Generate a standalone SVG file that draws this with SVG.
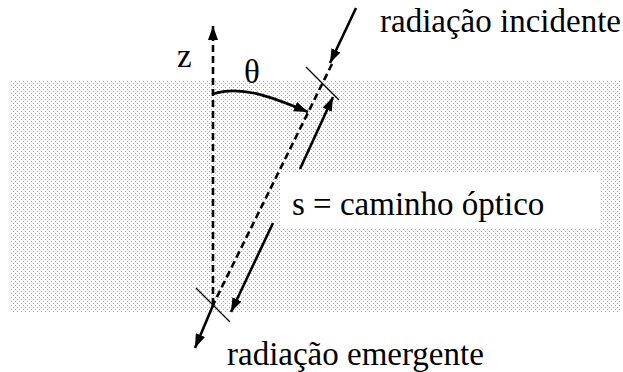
<svg xmlns="http://www.w3.org/2000/svg" width="623" height="372" viewBox="0 0 623 372">
<style>
text{font-size:33px;fill:#000}
.solid{stroke:#000;stroke-width:2.6;fill:none}
.dash{stroke:#000;stroke-width:2.6;fill:none;stroke-dasharray:7 4}
.tick{stroke:#000;stroke-width:1.3;fill:none}
</style>
<defs>
<pattern id="dots" x="11" y="81" width="4" height="4" patternUnits="userSpaceOnUse">
<rect width="4" height="4" fill="#fff"/>
<rect x="0" y="0" width="1" height="1" fill="#a6a6a6"/>
<rect x="2" y="2" width="1" height="1" fill="#a6a6a6"/>
</pattern>
<marker id="ah" viewBox="0 0 14 10" refX="14" refY="5" markerWidth="14" markerHeight="10" markerUnits="userSpaceOnUse" orient="auto">
<path d="M0,0 L14,5 L0,10 z" fill="#000"/>
</marker>
</defs>
<rect width="623" height="372" fill="#fff"/>
<g id="medium">
<rect x="11" y="81" width="610" height="231" fill="url(#dots)"/>
</g>
<g id="label-box" font-family="Liberation Serif, Times New Roman, DejaVu Serif, serif">
<rect x="280" y="173" width="320" height="55" fill="#fff"/>
<text x="292" y="215">s = caminho óptico</text>
</g>
<g id="connectors">
<line class="dash" x1="213" y1="305" x2="213" y2="26" marker-end="url(#ah)"/>
<line class="dash" x1="332" y1="64" x2="213" y2="305"/>
<path class="solid" d="M213,94 C240,85 270,96 308,112" marker-end="url(#ah)"/>
<line class="solid" x1="356" y1="8" x2="330" y2="63" marker-end="url(#ah)"/>
<line class="solid" x1="214" y1="303" x2="195" y2="348" marker-end="url(#ah)"/>
<line class="solid" x1="300" y1="169" x2="333" y2="97" marker-end="url(#ah)"/>
<line class="solid" x1="273" y1="223" x2="231" y2="312" marker-end="url(#ah)"/>
<line class="tick" x1="306" y1="67" x2="339" y2="100"/>
<line class="tick" x1="196" y1="288" x2="230" y2="322"/>
</g>
<g id="z-label" font-family="Liberation Serif, Times New Roman, DejaVu Serif, serif"><text x="177" y="67">z</text></g>
<g id="theta-label" font-family="Liberation Serif, Times New Roman, DejaVu Serif, serif"><text x="244" y="83">θ</text></g>
<g id="incident-label" font-family="Liberation Serif, Times New Roman, DejaVu Serif, serif"><text x="380" y="32">radiação incidente</text></g>
<g id="emergent-label" font-family="Liberation Serif, Times New Roman, DejaVu Serif, serif"><text x="227" y="365">radiação emergente</text></g>
</svg>
